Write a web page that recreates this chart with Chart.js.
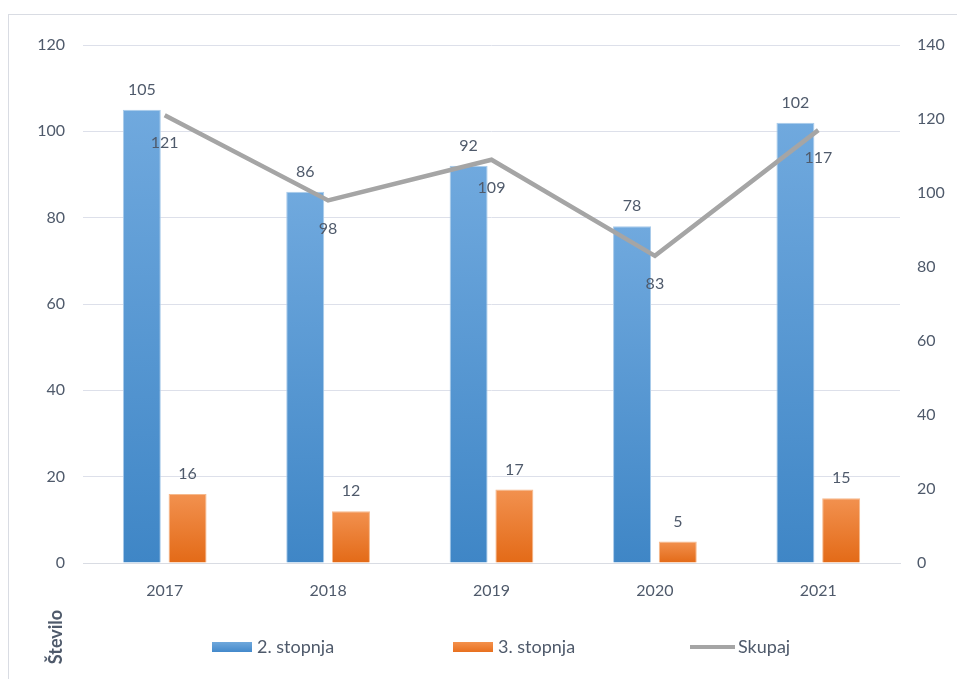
<!DOCTYPE html>
<html>
<head>
    <meta charset="UTF-8">
    <title>Število po letih</title>
    <script src="https://cdn.jsdelivr.net/npm/chart.js"></script>
    <style>
        html, body { margin: 0; padding: 0; background: #ffffff; }
        #wrap { width: 957px; height: 679px; position: relative; }
    </style>
</head>
<body>
<div id="wrap"><canvas id="chart"></canvas></div>
<script>
    // Podatki
    const leta = ['2017', '2018', '2019', '2020', '2021'];
    const stopnja2 = [105, 86, 92, 78, 102];
    const stopnja3 = [16, 12, 17, 5, 15];
    const skupaj = [121, 98, 109, 83, 117];
    const levaOs = [0, 20, 40, 60, 80, 100, 120];
    const desnaOs = [0, 20, 40, 60, 80, 100, 120, 140];

    const textColor = '#4f5a6b';
    const font = { family: 'Lato', size: 16 };

    // gradient for each bar (lighter top, darker bottom)
    function barGradient(top, bottom) {
        return function (ctx) {
            const chart = ctx.chart;
            if (!chart.chartArea || ctx.type !== 'data') return bottom;
            const y = chart.scales.y;
            const yTop = y.getPixelForValue(ctx.raw);
            const yBase = y.getPixelForValue(0);
            const g = chart.ctx.createLinearGradient(0, yTop, 0, yBase);
            g.addColorStop(0, top);
            g.addColorStop(1, bottom);
            return g;
        };
    }

    // frame, value labels, legend and axis title
    const extras = {
        id: 'extras',
        beforeDraw(chart) {
            const c = chart.ctx;
            c.save();
            c.strokeStyle = '#d9dce3';
            c.lineWidth = 1;
            c.strokeRect(8.5, 14.5, 1000, 1000);
            c.restore();
        },
        afterDatasetsDraw(chart) {
            const c = chart.ctx;
            c.save();
            c.font = '16px Lato';
            c.fillStyle = textColor;
            c.textAlign = 'center';
            c.textBaseline = 'middle';
            chart.data.datasets.forEach((ds, i) => {
                const meta = chart.getDatasetMeta(i);
                meta.data.forEach((el, j) => {
                    const v = ds.data[j];
                    if (ds.type === 'line') {
                        c.fillText(v, el.x, el.y + 28);
                    } else {
                        c.fillText(v, el.x, el.y - 20);
                    }
                });
            });

            // legend
            const items = [
                { x: 212, color: '#5b9bd5', line: false },
                { x: 453, color: '#ed7d31', line: false },
                { x: 690, color: '#a5a5a5', line: true }
            ];
            c.textAlign = 'left';
            c.font = '18px Lato';
            items.forEach((it, i) => {
                if (it.line) {
                    c.strokeStyle = it.color;
                    c.lineWidth = 4;
                    c.beginPath();
                    c.moveTo(it.x, 647);
                    c.lineTo(it.x + 45, 647);
                    c.stroke();
                    c.fillStyle = textColor;
                    c.fillText(chart.data.datasets[i].label, it.x + 48, 647);
                } else {
                    const g = c.createLinearGradient(0, 642, 0, 652);
                    g.addColorStop(0, i === 0 ? '#6fa8dc' : '#f4914c');
                    g.addColorStop(1, i === 0 ? '#4389cb' : '#e8701f');
                    c.fillStyle = g;
                    c.fillRect(it.x, 642, 40, 10);
                    c.fillStyle = textColor;
                    c.fillText(chart.data.datasets[i].label, it.x + 45, 647);
                }
            });

            // axis title
            c.translate(56, 637);
            c.rotate(-Math.PI / 2);
            c.textAlign = 'center';
            c.font = 'bold 18px Lato';
            c.fillText('Število', 0, 0);
            c.restore();
        }
    };

    new Chart(document.getElementById('chart'), {
        data: {
            labels: leta,
            datasets: [
                {
                    type: 'bar',
                    label: '2. stopnja',
                    data: stopnja2,
                    yAxisID: 'y',
                    backgroundColor: barGradient('#70a9de', '#3f86c6'),
                    borderColor: '#a9cbea',
                    borderWidth: 1,
                    barPercentage: 0.83,
                    categoryPercentage: 0.56,
                    order: 2
                },
                {
                    type: 'bar',
                    label: '3. stopnja',
                    data: stopnja3,
                    yAxisID: 'y',
                    backgroundColor: barGradient('#f2914f', '#e36a17'),
                    borderColor: '#f6b98c',
                    borderWidth: 1,
                    barPercentage: 0.83,
                    categoryPercentage: 0.56,
                    order: 2
                },
                {
                    type: 'line',
                    label: 'Skupaj',
                    data: skupaj,
                    yAxisID: 'y1',
                    borderColor: '#a5a5a5',
                    borderWidth: 4.5,
                    pointRadius: 0,
                    tension: 0,
                    order: 1
                }
            ]
        },
        options: {
            responsive: true,
            maintainAspectRatio: false,
            animation: false,
            layout: { padding: { top: 45, left: 0, right: 0, bottom: 0 } },
            plugins: {
                legend: { display: false },
                tooltip: { enabled: false }
            },
            scales: {
                x: {
                    grid: { display: false, drawTicks: false },
                    border: { display: true, color: '#d9dce3', width: 1 },
                    ticks: { color: textColor, font: font, padding: 18, maxRotation: 0 },
                    afterFit: s => { s.height = 116; }
                },
                y: {
                    position: 'left',
                    min: 0,
                    max: 120,
                    afterBuildTicks: s => { s.ticks = levaOs.map(v => ({ value: v })); },
                    grid: { color: '#dde0ea', drawTicks: false },
                    border: { display: false },
                    ticks: { color: textColor, font: font, padding: 18 },
                    afterFit: s => { s.width = 83; }
                },
                y1: {
                    position: 'right',
                    min: 0,
                    max: 140,
                    afterBuildTicks: s => { s.ticks = desnaOs.map(v => ({ value: v })); },
                    grid: { display: false, drawTicks: false },
                    border: { display: false },
                    ticks: { color: textColor, font: font, padding: 17 },
                    afterFit: s => { s.width = 57; }
                }
            }
        },
        plugins: [extras]
    });
</script>
</body>
</html>
